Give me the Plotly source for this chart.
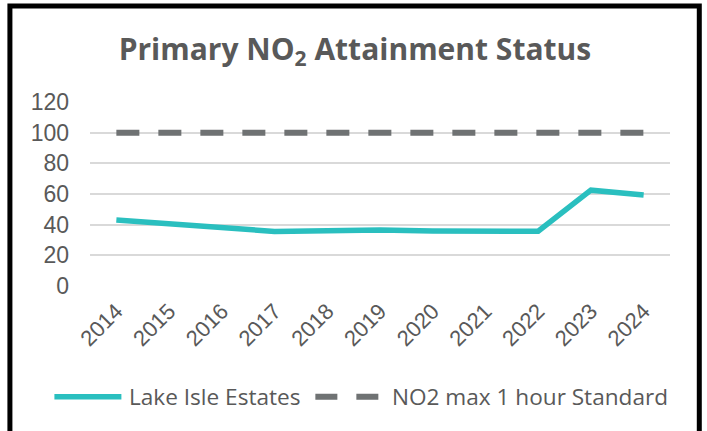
import plotly.graph_objects as go

years = ["2014", "2015", "2016", "2017", "2018", "2019", "2020", "2021", "2022", "2023", "2024"]
lake_isle = [43, 40.4, 37.8, 35.6, 36.0, 36.5, 35.8, 35.7, 35.7, 62.5, 59.4]
standard = [100, 100, 100, 100, 100, 100, 100, 100, 100, 100, 100]
y_ticks = [0, 20, 40, 60, 80, 100, 120]

TEAL = "#2ABFBF"
GRAY = "#6F7273"
TXT = "#595959"

W_FIG, H_FIG = 707, 431
ML, MR, MT, MB = 89.6, 37.3, 101.7, 145
PW = W_FIG - ML - MR
PH = H_FIG - MT - MB


def xp(px):
    return (px - ML) / PW


def yp(py):
    return (H_FIG - MB - py) / PH


fig = go.Figure()
fig.add_trace(go.Scatter(x=years, y=standard, mode="lines", name="NO2 max 1 hour Standard",
                         line=dict(color=GRAY, width=6, dash="23px,19px"), showlegend=False))
fig.add_trace(go.Scatter(x=years, y=lake_isle, mode="lines", name="Lake Isle Estates",
                         line=dict(color=TEAL, width=5.5), showlegend=False))

shapes = [
    # outer frame
    dict(type="rect", xref="paper", yref="paper", x0=xp(9.5), x1=xp(699), y0=yp(445), y1=yp(5.5),
         line=dict(color="black", width=5), fillcolor="rgba(0,0,0,0)", layer="above"),
    # legend samples
    dict(type="line", xref="paper", yref="paper", x0=xp(54), x1=xp(121), y0=yp(397), y1=yp(397),
         line=dict(color=TEAL, width=5.5)),
    dict(type="line", xref="paper", yref="paper", x0=xp(315), x1=xp(378), y0=yp(397), y1=yp(397),
         line=dict(color=GRAY, width=6, dash="22px,19px")),
]

annotations = [
    dict(text="Lake Isle Estates", xref="paper", yref="paper", x=xp(127), y=yp(397),
         xanchor="left", yanchor="middle", showarrow=False,
         font=dict(family="Open Sans", size=22.6, color=TXT)),
    dict(text="NO2 max 1 hour Standard", xref="paper", yref="paper", x=xp(390), y=yp(397),
         xanchor="left", yanchor="middle", showarrow=False,
         font=dict(family="Open Sans", size=22.6, color=TXT)),
]

fig.update_layout(
    width=W_FIG, height=H_FIG,
    margin=dict(l=ML, r=MR, t=MT, b=MB, pad=0),
    paper_bgcolor="white", plot_bgcolor="white",
    title=dict(text="Primary NO<sub>2</sub> Attainment Status", x=0.502, xref="container",
               xanchor="center", y=1 - 49 / H_FIG, yanchor="middle",
               font=dict(family="Open Sans", size=30, color=TXT, weight="bold")),
    xaxis=dict(type="category", range=[-0.5, 10.5], showgrid=False, zeroline=False,
               showline=False, tickangle=-45, ticks="", ticklabelstandoff=7,
               tickfont=dict(family="Liberation Sans", size=22, color=TXT)),
    yaxis=dict(range=[0, 120], tickvals=y_ticks, showgrid=True, gridcolor="#D9D9D9",
               gridwidth=1.5, zeroline=False, showline=False, ticks="",
               ticklabelstandoff=20,
               tickfont=dict(family="Liberation Sans", size=23, color=TXT)),
    shapes=shapes, annotations=annotations, showlegend=False,
)

fig.write_html("out.html", config={"displayModeBar": False},
               post_script="document.body.style.margin='0';document.body.style.overflow='hidden';")
